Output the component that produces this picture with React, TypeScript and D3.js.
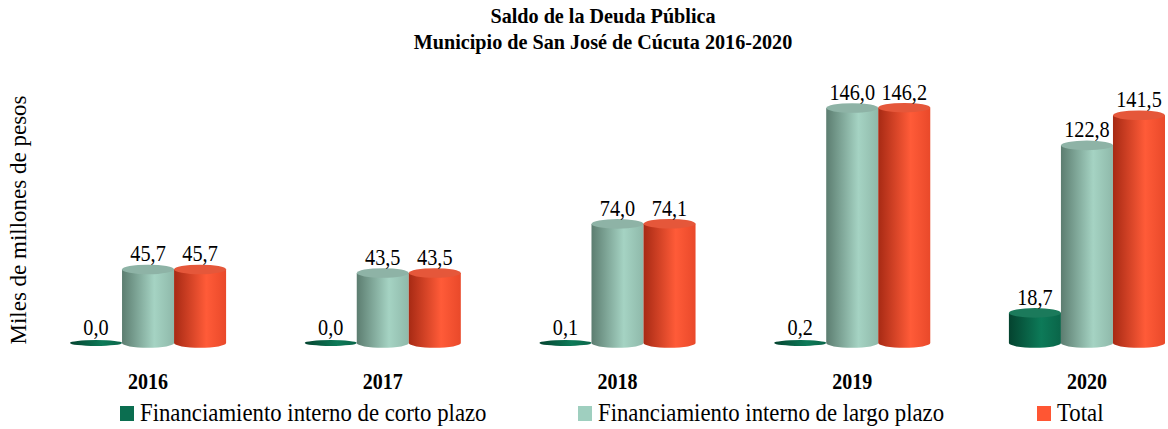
import React from "react";
import * as d3 from "d3";

const years = ["2016", "2017", "2018", "2019", "2020"];
const seriesNames = [
  "Financiamiento interno de corto plazo",
  "Financiamiento interno de largo plazo",
  "Total",
];
const cortoPlazo = [0.0, 0.0, 0.1, 0.2, 18.7];
const largoPlazo = [45.7, 43.5, 74.0, 146.0, 122.8];
const total = [45.7, 43.5, 74.1, 146.2, 141.5];
const seriesValues = [cortoPlazo, largoPlazo, total];

const W = 1168;
const H = 429;

const palettes = [
  { left: "#04432f", mid: "#0d7a58", right: "#0a6549", top: "#1b7a5b", legend: "#0b6e50" },
  { left: "#5c7d70", mid: "#a5d3c3", right: "#8fb9aa", top: "#8eb3a6", legend: "#9fcfbf" },
  { left: "#a72a14", mid: "#ff5b38", right: "#e9492a", top: "#e5573a", legend: "#ff5633" },
];

const fmt = (v: number) => v.toFixed(1).replace(".", ",");

function T(props: {
  x: number;
  y: number;
  sx?: number;
  size: number;
  anchor?: string;
  bold?: boolean;
  children: React.ReactNode;
}) {
  const { x, y, sx = 1, size, anchor = "start", bold, children } = props;
  return (
    <text
      transform={`translate(${x},${y}) scale(${sx},1)`}
      textAnchor={anchor}
      fontSize={size}
      fontWeight={bold ? "bold" : "normal"}
      fill="#000"
    >
      {children}
    </text>
  );
}

export default function App() {
  const x0 = d3.scaleBand<string>().domain(years).range([70, 1165]).paddingInner(0.335).paddingOuter(0);
  const x1 = d3.scaleBand<number>().domain([0, 1, 2]).range([0, x0.bandwidth()]).padding(0);
  const y = d3.scaleLinear().domain([0, 160]).range([343, 343 - 160 * 1.6096]);
  const ry = 4.8;
  const font = "'Liberation Serif', 'Times New Roman', serif";

  const legendX = [120, 578, 1037];

  return (
    <svg width={W} height={H} style={{ position: "absolute", left: 0, top: 0, background: "#fff" }} fontFamily={font}>
      <defs>
        {palettes.map((p, i) => (
          <linearGradient id={`g${i}`} key={i} x1="0" x2="1" y1="0" y2="0">
            <stop offset="0" stopColor={p.left} />
            <stop offset="0.62" stopColor={p.mid} />
            <stop offset="1" stopColor={p.right} />
          </linearGradient>
        ))}
      </defs>
      <T x={603} y={23} size={21} sx={0.96} anchor="middle" bold>
        Saldo de la Deuda Pública
      </T>
      <T x={603} y={49} size={21} sx={0.96} anchor="middle" bold>
        Municipio de San José de Cúcuta 2016-2020
      </T>
      <text transform="translate(26,220) rotate(-90)" textAnchor="middle" fontSize={23}>
        Miles de millones de pesos
      </text>
      {years.map((yr, i) => (
        <g key={yr} transform={`translate(${x0(yr)},0)`}>
          {seriesValues.map((vals, s) => {
            const v = vals[i];
            const bx = x1(s) as number;
            const bw = x1.bandwidth();
            const cx = bx + bw / 2;
            const rx = bw / 2;
            const yTop = y(v);
            const yBase = y(0);
            const p = palettes[s];
            const h = yBase - yTop;
            return (
              <g key={s}>
                {h > 1.5 ? (
                  <>
                    <path
                      d={`M${bx},${yTop} L${bx},${yBase} A${rx},${ry} 0 0 0 ${bx + bw},${yBase} L${bx + bw},${yTop} Z`}
                      fill={`url(#g${s})`}
                    />
                    <ellipse cx={cx} cy={yTop} rx={rx} ry={ry} fill={p.top} />
                  </>
                ) : (
                  <ellipse cx={cx} cy={yBase} rx={rx} ry={ry - 1.8} fill={`url(#g${s})`} />
                )}
                <T x={cx} y={yTop - 8} size={22.5} sx={0.9} anchor="middle">
                  {fmt(v)}
                </T>
              </g>
            );
          })}
          <T x={x0.bandwidth() / 2} y={389} size={23} sx={0.87} anchor="middle" bold>
            {yr}
          </T>
        </g>
      ))}
      {seriesNames.map((n, s) => (
        <g key={n}>
          <rect x={legendX[s]} y={406} width={14} height={15} fill={palettes[s].legend} />
          <T x={legendX[s] + 20} y={421} size={24.5} sx={0.93}>
            {n}
          </T>
        </g>
      ))}
    </svg>
  );
}
